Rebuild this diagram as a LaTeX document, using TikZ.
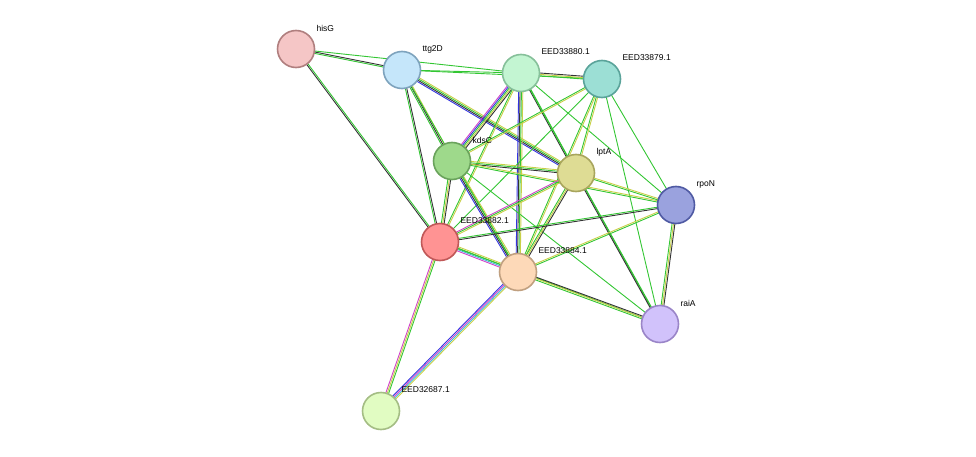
\documentclass[tikz,border=0pt]{standalone}
\usepackage{fontspec}
\setmainfont{Liberation Sans}
\usetikzlibrary{calc}
\pgfdeclarelayer{bg}\pgfsetlayers{bg,main}
\definecolor{eg}{HTML}{33C633}
\definecolor{ek}{HTML}{333333}
\definecolor{ey}{HTML}{C8D048}
\definecolor{eb}{HTML}{3333E0}
\definecolor{em}{HTML}{D040C8}
\definecolor{ec}{HTML}{40B8D8}
\definecolor{f1}{HTML}{F5C6C6}\definecolor{d1}{HTML}{B07F7F}
\definecolor{f2}{HTML}{C5E6FA}\definecolor{d2}{HTML}{7EA3BD}
\definecolor{f3}{HTML}{C3F5D2}\definecolor{d3}{HTML}{86C09A}
\definecolor{f4}{HTML}{9CDFD5}\definecolor{d4}{HTML}{5AA39A}
\definecolor{f5}{HTML}{9ED98B}\definecolor{d5}{HTML}{6AA35C}
\definecolor{f6}{HTML}{DEDC94}\definecolor{d6}{HTML}{A8A55D}
\definecolor{f7}{HTML}{9AA2DE}\definecolor{d7}{HTML}{4F5AA3}
\definecolor{f8}{HTML}{FF9393}\definecolor{d8}{HTML}{C05858}
\definecolor{f9}{HTML}{FDD9B8}\definecolor{d9}{HTML}{C0A080}
\definecolor{f10}{HTML}{D1C2FB}\definecolor{d10}{HTML}{9A85C8}
\definecolor{f11}{HTML}{E1FCC2}\definecolor{d11}{HTML}{A4BD84}
\tikzset{x=1pt,y=-1pt,
 prot/.style={circle,minimum size=37pt,inner sep=0pt,fill=f#1,draw=d#1,line width=1.6pt},
 lab/.style={font=\fontsize{8.5}{10}\selectfont,anchor=west}}
\newcommand\edge[3]{%
 \foreach \c [count=\i] in {#3}{\xdef\nn{\i}}%
 \foreach \c [count=\i] in {#3}{%
  \pgfmathsetmacro\o{(\i-(\nn+1)/2)*1.4}%
  \draw[draw=\c,line width=0.9pt] ($(#1)!\o pt!90:(#2)$) -- ($(#2)!\o pt!-90:(#1)$);}}
\begin{document}
\begin{tikzpicture}
\useasboundingbox (0,0) rectangle (976,457);
\node[prot=1] (hisG) at (296,49) {};
\node[prot=2] (ttg) at (402,70) {};
\node[prot=3] (e80) at (521,73) {};
\node[prot=4] (e79) at (602,79) {};
\node[prot=5] (kds) at (452,161) {};
\node[prot=6] (lpt) at (576,173) {};
\node[prot=7] (rpo) at (676,205) {};
\node[prot=8] (e82) at (440,242) {};
\node[prot=9] (e84) at (518,272) {};
\node[prot=10] (rai) at (660,324) {};
\node[prot=11] (e87) at (381,411) {};
\node[lab] (l1) at (313,28) {hisG};
\node[lab] (l2) at (419,49) {ttg2D};
\node[lab] (l3) at (538,52) {EED33880.1};
\node[lab] (l4) at (619,58) {EED33879.1};
\node[lab] (l5) at (469,140) {kdsC};
\node[lab] (l6) at (593,152) {lptA};
\node[lab] (l7) at (693,184) {rpoN};
\node[lab] (l8) at (457,221) {EED33882.1};
\node[lab] (l9) at (535,251) {EED33884.1};
\node[lab] (l10) at (677,303) {raiA};
\node[lab] (l11) at (398,390) {EED32687.1};
\begin{pgfonlayer}{bg}
\edge{hisG}{ttg}{eg,ek}
\edge{hisG}{e80}{eg}
\edge{hisG}{e82}{ek,eg}
\edge{ttg}{e80}{eg}
\edge{ttg}{e79}{eg}
\edge{ttg}{kds}{eg,ek,ey}
\edge{ttg}{lpt}{eb,ek,eg,ey}
\edge{ttg}{e82}{eg,ek}
\edge{ttg}{e84}{eg}
\edge{e80}{e79}{eg,ey,ek}
\edge{e80}{kds}{em,eb,eg,ey,ek}
\edge{e80}{lpt}{ek,eg}
\edge{e80}{e82}{eg,ey}
\edge{e80}{e84}{eb,ek,eg,ey}
\edge{e80}{rpo}{eg}
\edge{e80}{rai}{eg}
\edge{e79}{kds}{eg,ey}
\edge{e79}{lpt}{eg,ey}
\edge{e79}{e82}{eg}
\edge{e79}{e84}{eg,ey}
\edge{e79}{rpo}{eg}
\edge{e79}{rai}{eg}
\edge{kds}{lpt}{ek,eg,ey}
\edge{kds}{e82}{eg,ey,ek}
\edge{kds}{e84}{eb,ek,eg,ey}
\edge{kds}{rpo}{eg,ey}
\edge{kds}{rai}{eg}
\edge{lpt}{e82}{em,eg,ey}
\edge{lpt}{e84}{eg,ey,ek}
\edge{lpt}{rpo}{eg,ey}
\edge{lpt}{rai}{ek,eg}
\edge{e82}{e84}{em,ec,eg,ey}
\edge{e82}{rpo}{ek,eg}
\edge{e82}{rai}{eg}
\edge{e82}{e87}{em,ey,eg}
\edge{e84}{rpo}{eg,ey}
\edge{e84}{rai}{eg,ey,ek}
\edge{e84}{e87}{eb,em,ec,ey}
\edge{rpo}{rai}{eg,ey,ek}
\end{pgfonlayer}
\end{tikzpicture}
\end{document}
